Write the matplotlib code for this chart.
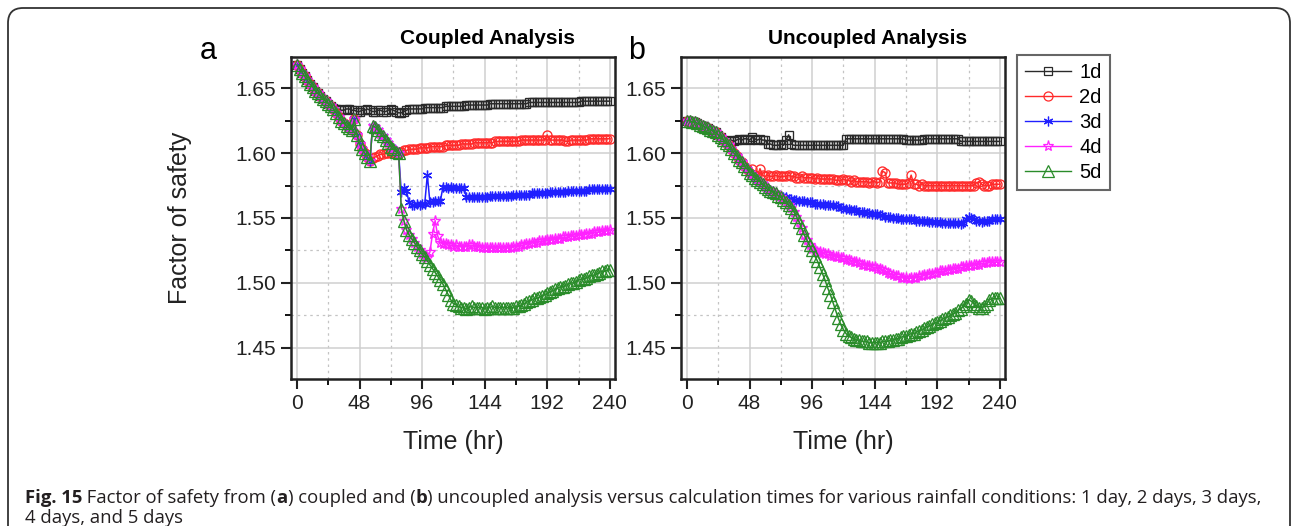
import numpy as np
from matplotlib import pyplot as plt
from matplotlib.patches import FancyBboxPatch
from matplotlib.lines import Line2D

# sampling times (hr), every 2 hours
hours = np.arange(0, 241, 2)

# ---- coupled analysis (panel a) ----
# t = 0..56, shared by 2d-5d
descent_a = [1.668, 1.665, 1.662, 1.659, 1.656, 1.653, 1.651, 1.648, 1.646, 1.644,
             1.642, 1.640, 1.638, 1.636, 1.634, 1.631, 1.628, 1.625, 1.623, 1.621,
             1.619, 1.618, 1.626, 1.614, 1.607, 1.603, 1.600, 1.597, 1.594]
# t = 58..76, shared by 3d-5d
sawtooth_a = [1.621, 1.620, 1.618, 1.615, 1.613, 1.610, 1.608, 1.605, 1.603, 1.601]
# t = 78..98, shared by 4d-5d
drop_a = [1.600, 1.557, 1.548, 1.541, 1.537, 1.534, 1.531, 1.528, 1.525, 1.522, 1.520]

fs_a_1d = [1.668, 1.665, 1.662, 1.659, 1.656, 1.653, 1.651, 1.648, 1.646, 1.644,
           1.642, 1.640, 1.638, 1.636, 1.635, 1.634, 1.634, 1.633, 1.633, 1.634,
           1.634, 1.633, 1.633, 1.632, 1.632, 1.633, 1.633, 1.634, 1.633, 1.632,
           1.632, 1.633, 1.633, 1.632, 1.632, 1.633, 1.634, 1.633, 1.632, 1.631,
           1.631, 1.632, 1.633, 1.634, 1.634, 1.634, 1.634, 1.634, 1.634, 1.635,
           1.635, 1.635, 1.635, 1.635, 1.635, 1.635, 1.635, 1.636, 1.636, 1.636,
           1.636, 1.636, 1.636, 1.636, 1.636, 1.637, 1.637, 1.637, 1.637, 1.637,
           1.637, 1.637, 1.637, 1.637, 1.638, 1.638, 1.638, 1.638, 1.638, 1.638,
           1.638, 1.638, 1.638, 1.638, 1.638, 1.638, 1.638, 1.638, 1.638, 1.639,
           1.639, 1.639, 1.639, 1.639, 1.639, 1.639, 1.639, 1.639, 1.639, 1.639,
           1.639, 1.639, 1.639, 1.639, 1.639, 1.639, 1.639, 1.639, 1.639, 1.640,
           1.640, 1.640, 1.640, 1.640, 1.640, 1.640, 1.640, 1.640, 1.640, 1.640,
           1.640]
fs_a_2d = descent_a + [
    1.596, 1.597, 1.598, 1.599, 1.599, 1.600, 1.600, 1.600, 1.601, 1.601,
    1.601, 1.601, 1.602, 1.602, 1.603, 1.603, 1.603, 1.603, 1.604, 1.604,
    1.604, 1.604, 1.605, 1.605, 1.605, 1.605, 1.605, 1.605, 1.606, 1.606,
    1.606, 1.606, 1.606, 1.606, 1.607, 1.607, 1.607, 1.607, 1.607, 1.608,
    1.608, 1.608, 1.608, 1.608, 1.608, 1.608, 1.608, 1.609, 1.609, 1.609,
    1.609, 1.609, 1.609, 1.609, 1.609, 1.609, 1.609, 1.610, 1.610, 1.610,
    1.610, 1.610, 1.610, 1.610, 1.610, 1.610, 1.610, 1.614, 1.610, 1.610,
    1.610, 1.610, 1.610, 1.610, 1.609, 1.609, 1.610, 1.610, 1.610, 1.610,
    1.610, 1.610, 1.610, 1.611, 1.611, 1.611, 1.611, 1.611, 1.611, 1.611,
    1.611, 1.611]
fs_a_3d = descent_a + sawtooth_a + [
    1.600, 1.570, 1.573, 1.571, 1.562, 1.560, 1.560, 1.561, 1.560, 1.561,
    1.561, 1.583, 1.562, 1.562, 1.563, 1.563, 1.563, 1.574, 1.574, 1.573,
    1.574, 1.573, 1.573, 1.573, 1.573, 1.573, 1.566, 1.566, 1.566, 1.566,
    1.566, 1.566, 1.566, 1.566, 1.566, 1.567, 1.567, 1.567, 1.567, 1.567,
    1.567, 1.567, 1.567, 1.567, 1.568, 1.568, 1.568, 1.568, 1.568, 1.568,
    1.568, 1.569, 1.569, 1.569, 1.569, 1.569, 1.569, 1.569, 1.570, 1.570,
    1.570, 1.570, 1.570, 1.570, 1.570, 1.571, 1.571, 1.571, 1.571, 1.571,
    1.571, 1.571, 1.571, 1.572, 1.572, 1.572, 1.572, 1.572, 1.572, 1.572,
    1.572, 1.572]
fs_a_4d = descent_a + sawtooth_a + drop_a + [
    1.519, 1.524, 1.538, 1.548, 1.536, 1.531, 1.530, 1.530, 1.529, 1.529,
    1.528, 1.529, 1.528, 1.528, 1.528, 1.528, 1.529, 1.529, 1.528, 1.528,
    1.528, 1.527, 1.527, 1.527, 1.527, 1.527, 1.527, 1.527, 1.527, 1.527,
    1.527, 1.527, 1.527, 1.528, 1.528, 1.528, 1.529, 1.529, 1.530, 1.530,
    1.531, 1.531, 1.531, 1.532, 1.532, 1.532, 1.533, 1.533, 1.533, 1.534,
    1.534, 1.534, 1.535, 1.535, 1.535, 1.536, 1.536, 1.536, 1.537, 1.537,
    1.537, 1.538, 1.538, 1.538, 1.539, 1.539, 1.539, 1.540, 1.540, 1.540,
    1.541]
fs_a_5d = descent_a + sawtooth_a + drop_a + [
    1.517, 1.514, 1.511, 1.508, 1.505, 1.502, 1.499, 1.495, 1.491, 1.487,
    1.484, 1.483, 1.482, 1.481, 1.481, 1.480, 1.481, 1.482, 1.481, 1.481,
    1.481, 1.481, 1.480, 1.481, 1.481, 1.482, 1.481, 1.481, 1.481, 1.481,
    1.481, 1.481, 1.481, 1.481, 1.482, 1.482, 1.483, 1.484, 1.485, 1.486,
    1.487, 1.488, 1.488, 1.489, 1.490, 1.491, 1.492, 1.493, 1.494, 1.495,
    1.496, 1.497, 1.497, 1.498, 1.499, 1.500, 1.500, 1.501, 1.502, 1.503,
    1.503, 1.504, 1.505, 1.506, 1.506, 1.507, 1.508, 1.509, 1.509, 1.510,
    1.510]

# ---- uncoupled analysis (panel b) ----
# t = 0..46, shared by 2d-5d
descent_b = [1.625, 1.625, 1.624, 1.624, 1.623, 1.622, 1.621, 1.620, 1.619, 1.618,
             1.617, 1.616, 1.614, 1.612, 1.610, 1.608, 1.606, 1.603, 1.600, 1.598,
             1.595, 1.593, 1.590, 1.588]
# t = 48..68, shared by 3d-5d
slope_b = [1.585, 1.583, 1.581, 1.579, 1.578, 1.576, 1.574, 1.572, 1.571, 1.570, 1.569]
# t = 70..94, shared by 4d-5d
drop_b = [1.567, 1.566, 1.564, 1.562, 1.560, 1.558, 1.555, 1.551, 1.547, 1.542,
          1.537, 1.533, 1.529]

fs_b_1d = [1.625, 1.625, 1.624, 1.624, 1.623, 1.622, 1.621, 1.620, 1.619, 1.618,
           1.617, 1.616, 1.614, 1.612, 1.610, 1.609, 1.609, 1.610, 1.609, 1.610,
           1.611, 1.610, 1.611, 1.611, 1.610, 1.612, 1.611, 1.610, 1.611, 1.610,
           1.610, 1.607, 1.607, 1.606, 1.606, 1.606, 1.607, 1.606, 1.610, 1.614,
           1.607, 1.606, 1.606, 1.606, 1.606, 1.606, 1.606, 1.606, 1.606, 1.606,
           1.606, 1.606, 1.606, 1.606, 1.606, 1.606, 1.606, 1.606, 1.606, 1.606,
           1.606, 1.611, 1.611, 1.611, 1.611, 1.611, 1.611, 1.611, 1.611, 1.611,
           1.611, 1.611, 1.611, 1.611, 1.611, 1.611, 1.611, 1.611, 1.611, 1.611,
           1.611, 1.611, 1.611, 1.611, 1.610, 1.610, 1.610, 1.610, 1.610, 1.610,
           1.610, 1.611, 1.611, 1.611, 1.611, 1.611, 1.611, 1.611, 1.611, 1.611,
           1.611, 1.611, 1.611, 1.611, 1.611, 1.609, 1.609, 1.609, 1.609, 1.609,
           1.609, 1.609, 1.609, 1.609, 1.609, 1.609, 1.609, 1.609, 1.609, 1.609,
           1.609]
fs_b_2d = descent_b + [
    1.585, 1.588, 1.583, 1.582, 1.588, 1.583, 1.582, 1.583, 1.582, 1.582,
    1.583, 1.582, 1.582, 1.582, 1.582, 1.583, 1.582, 1.582, 1.581, 1.581,
    1.582, 1.581, 1.581, 1.581, 1.581, 1.580, 1.581, 1.580, 1.580, 1.580,
    1.580, 1.580, 1.580, 1.579, 1.579, 1.579, 1.580, 1.579, 1.579, 1.578,
    1.579, 1.578, 1.578, 1.578, 1.578, 1.578, 1.577, 1.578, 1.578, 1.577,
    1.578, 1.586, 1.585, 1.577, 1.577, 1.577, 1.577, 1.576, 1.576, 1.576,
    1.576, 1.577, 1.583, 1.576, 1.576, 1.575, 1.576, 1.575, 1.575, 1.575,
    1.575, 1.575, 1.575, 1.575, 1.575, 1.575, 1.575, 1.575, 1.575, 1.575,
    1.575, 1.575, 1.575, 1.575, 1.575, 1.575, 1.575, 1.577, 1.578, 1.576,
    1.575, 1.575, 1.575, 1.576, 1.576, 1.576, 1.576]
fs_b_3d = descent_b + slope_b + [
    1.568, 1.567, 1.566, 1.566, 1.565, 1.565, 1.564, 1.564, 1.563, 1.563,
    1.563, 1.562, 1.562, 1.562, 1.561, 1.561, 1.561, 1.561, 1.560, 1.560,
    1.560, 1.560, 1.559, 1.559, 1.558, 1.558, 1.557, 1.557, 1.556, 1.556,
    1.556, 1.555, 1.555, 1.555, 1.554, 1.554, 1.553, 1.553, 1.553, 1.552,
    1.552, 1.551, 1.551, 1.551, 1.550, 1.550, 1.550, 1.549, 1.549, 1.549,
    1.549, 1.549, 1.549, 1.548, 1.548, 1.548, 1.548, 1.548, 1.547, 1.547,
    1.547, 1.547, 1.547, 1.546, 1.546, 1.546, 1.546, 1.546, 1.546, 1.546,
    1.545, 1.546, 1.549, 1.551, 1.550, 1.549, 1.548, 1.548, 1.547, 1.548,
    1.548, 1.548, 1.549, 1.549, 1.549, 1.549]
fs_b_4d = descent_b + slope_b + drop_b + [
    1.526, 1.525, 1.524, 1.524, 1.523, 1.522, 1.522, 1.521, 1.521, 1.520,
    1.520, 1.519, 1.519, 1.518, 1.518, 1.517, 1.516, 1.516, 1.515, 1.514,
    1.514, 1.513, 1.513, 1.512, 1.512, 1.511, 1.511, 1.510, 1.509, 1.508,
    1.507, 1.506, 1.505, 1.505, 1.504, 1.504, 1.504, 1.503, 1.504, 1.504,
    1.504, 1.505, 1.505, 1.506, 1.506, 1.507, 1.507, 1.508, 1.508, 1.509,
    1.509, 1.509, 1.510, 1.510, 1.511, 1.511, 1.511, 1.512, 1.512, 1.513,
    1.513, 1.513, 1.514, 1.514, 1.514, 1.515, 1.515, 1.515, 1.516, 1.516,
    1.516, 1.516, 1.516]
fs_b_5d = descent_b + slope_b + drop_b + [
    1.525, 1.521, 1.517, 1.512, 1.507, 1.502, 1.496, 1.491, 1.485, 1.479,
    1.473, 1.468, 1.464, 1.461, 1.459, 1.458, 1.457, 1.456, 1.456, 1.455,
    1.455, 1.455, 1.454, 1.454, 1.454, 1.454, 1.454, 1.455, 1.455, 1.455,
    1.456, 1.456, 1.457, 1.457, 1.458, 1.459, 1.459, 1.460, 1.461, 1.461,
    1.462, 1.463, 1.464, 1.465, 1.466, 1.467, 1.468, 1.469, 1.470, 1.471,
    1.472, 1.473, 1.474, 1.475, 1.476, 1.477, 1.479, 1.480, 1.482, 1.484,
    1.487, 1.486, 1.484, 1.482, 1.481, 1.481, 1.482, 1.484, 1.487, 1.488,
    1.488, 1.488, 1.488]

labels = ['1d', '2d', '3d', '4d', '5d']
colors = ['#2a2a2a', '#ff2a2a', '#2020ff', '#ff22ff', '#2a8c2a']
markers = ['s', 'o', (6, 2, 0), '*', '^']
sizes = [6, 6.5, 7, 8, 8]

plt.rcParams['font.family'] = ['Liberation Sans', 'DejaVu Sans']

fig = plt.figure(figsize=(12.92, 5.26), dpi=100)
W, H = 1292.0, 526.0


def style_axes(ax):
    ax.set_xlim(-4.6, 244)
    ax.set_ylim(1.426, 1.674)
    ax.set_xticks(np.arange(0, 241, 48))
    ax.set_xticks(np.arange(24, 241, 48), minor=True)
    ax.set_yticks([1.45, 1.50, 1.55, 1.60, 1.65])
    ax.set_yticks([1.475, 1.525, 1.575, 1.625], minor=True)
    ax.set_yticklabels(['1.45', '1.50', '1.55', '1.60', '1.65'])
    ax.grid(True, which='major', color='#cfcfcf', lw=1.1, ls='-')
    ax.grid(True, which='minor', color='#c4c4c4', lw=0.9, ls=(0, (2, 3)))
    ax.set_axisbelow(True)
    ax.tick_params(which='major', direction='out', length=7, width=1.5,
                   labelsize=15, colors='#222222', pad=4)
    ax.tick_params(which='minor', direction='out', length=4, width=1.3)
    ax.tick_params(top=False, right=False)
    for s in ax.spines.values():
        s.set_linewidth(1.8)
        s.set_color('#222222')


def draw_panel(ax, series):
    for vals, lab, c, m, ms in zip(series, labels, colors, markers, sizes):
        assert len(vals) == len(hours), (lab, len(vals))
        ax.plot(hours, vals, color=c, lw=1.1, marker=m, ms=ms, mfc='none',
                mec=c, mew=0.95, label=lab)


ax_a = fig.add_axes([291 / W, 1 - 379 / H, 324 / W, 322 / H])
ax_b = fig.add_axes([681 / W, 1 - 379 / H, 324 / W, 322 / H])

draw_panel(ax_a, [fs_a_1d, fs_a_2d, fs_a_3d, fs_a_4d, fs_a_5d])
draw_panel(ax_b, [fs_b_1d, fs_b_2d, fs_b_3d, fs_b_4d, fs_b_5d])

for ax in (ax_a, ax_b):
    style_axes(ax)
    ax.text(0.5, -0.196, 'Time (hr)', transform=ax.transAxes, ha='center',
            va='center', fontsize=18, color='#222222')

ax_a.text(-0.343, 0.5, 'Factor of safety', transform=ax_a.transAxes,
          rotation=90, ha='center', va='center', fontsize=18, color='#222222')
ax_a.text(0.605, 1.059, 'Coupled Analysis', transform=ax_a.transAxes,
          ha='center', va='center', fontsize=15, fontweight='bold')
ax_b.text(0.577, 1.059, 'Uncoupled Analysis', transform=ax_b.transAxes,
          ha='center', va='center', fontsize=15, fontweight='bold')
ax_a.text(-0.256, 1.02, 'a', transform=ax_a.transAxes, ha='center',
          va='center', fontsize=22)
ax_b.text(-0.136, 1.02, 'b', transform=ax_b.transAxes, ha='center',
          va='center', fontsize=22)

handles = [Line2D([], [], color=c, lw=1.0, marker=m, ms=ms, mfc='none', mec=c,
                  mew=0.9) for c, m, ms in zip(colors, markers, sizes)]
leg = fig.legend(handles, labels, loc='upper left',
                 bbox_to_anchor=(1017 / W, 1 - 55 / H), fontsize=14.5,
                 handlelength=2.3, labelspacing=0.3, borderpad=0.4,
                 handletextpad=0.4, borderaxespad=0, fancybox=False,
                 framealpha=1)
leg.get_frame().set_edgecolor('#666666')
leg.get_frame().set_linewidth(1.5)

# page frame with rounded corners
frame = FancyBboxPatch((0.08, -0.3), 12.82, 5.48,
                       boxstyle='round,pad=0,rounding_size=0.15',
                       transform=fig.dpi_scale_trans, fill=False,
                       ec='#333333', lw=1.3)
fig.add_artist(frame)

# caption with bold pieces
cax = fig.add_axes([0, 0, 1, 1])
cax.axis('off')
cap_color = '#231f20'
cap_font = ['Open Sans', 'DejaVu Sans']
pieces = [('Fig. 15', 'bold'), (' Factor of safety from (', 'normal'),
          ('a', 'bold'), (') coupled and (', 'normal'), ('b', 'bold'),
          (') uncoupled analysis versus calculation times for various rainfall '
           'conditions: 1 day, 2 days, 3 days,', 'normal')]
prev = None
for txt, wt in pieces:
    if prev is None:
        prev = cax.annotate(txt, xy=(25 / W, 1 - 503 / H),
                            xycoords='figure fraction', va='baseline',
                            fontsize=13.3, fontweight=wt, color=cap_color,
                            family=cap_font)
    else:
        prev = cax.annotate(txt, xy=(1, 0), xycoords=prev, va='bottom',
                            fontsize=13.3, fontweight=wt, color=cap_color,
                            family=cap_font)
cax.annotate('4 days, and 5 days', xy=(25 / W, 1 - 523 / H),
             xycoords='figure fraction', va='baseline', fontsize=13.3,
             color=cap_color, family=cap_font)

fig.savefig('out.png', dpi=100)
